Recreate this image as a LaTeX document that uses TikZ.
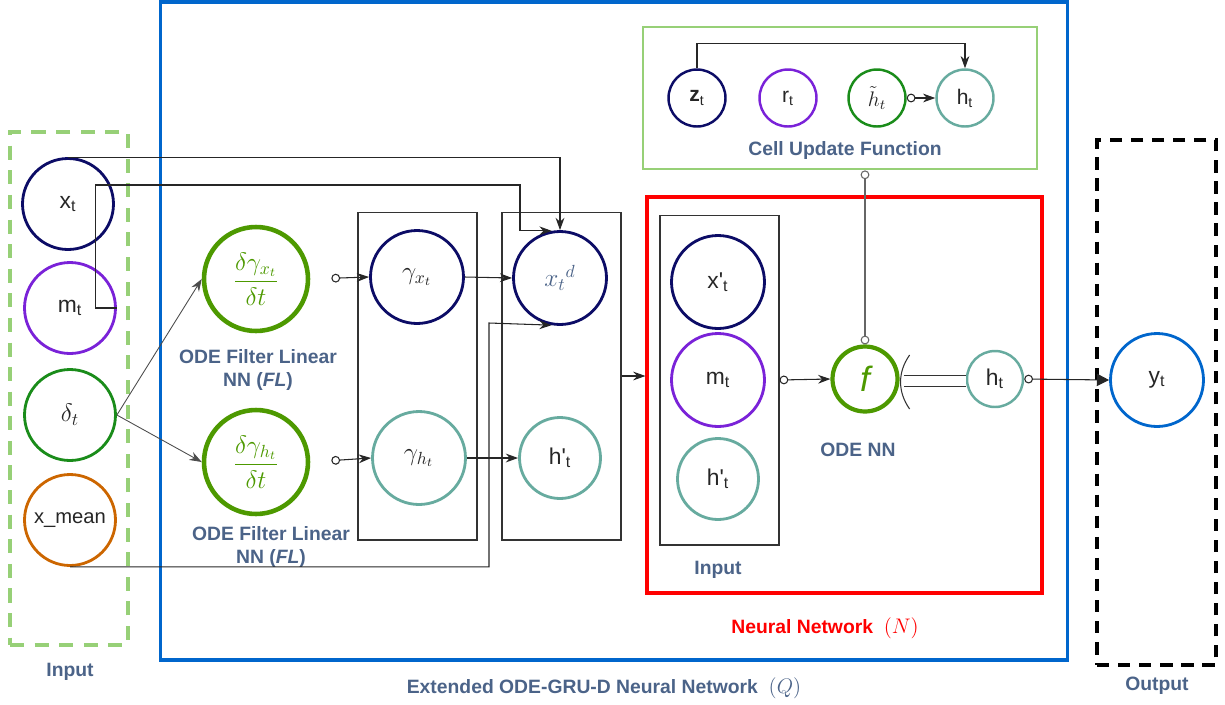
\documentclass[tikz,border=0pt]{standalone}
\usepackage[no-math]{fontspec}
\setmainfont{Liberation Sans}
\usepackage{amsmath}
\usepackage{amssymb}
\usetikzlibrary{arrows.meta}
\definecolor{navy}{HTML}{0C0C66}
\definecolor{purp}{HTML}{7A22D8}
\definecolor{dgreen}{HTML}{1A8C1A}
\definecolor{odegreen}{HTML}{4D9900}
\definecolor{tealc}{HTML}{67AB9F}
\definecolor{orng}{HTML}{CC6600}
\definecolor{bluec}{HTML}{0066CC}
\definecolor{lime}{HTML}{97D077}
\definecolor{slate}{HTML}{4B6388}

\begin{document}
\begin{tikzpicture}[x=0.02cm,y=-0.02cm,
  unit/.style={circle,draw,inner sep=0pt,line width=1.6pt,minimum size=1.82cm,text=black!85,font=\fontsize{13}{15}\selectfont},
  filt/.style={unit,draw=odegreen,line width=2.6pt,minimum size=2.08cm,text=odegreen,font=\Large},
  small/.style={unit,line width=1.4pt,minimum size=1.14cm,font=\fontsize{12}{14}\selectfont},
  frame/.style={draw=black!80,line width=0.6pt,minimum width=2.38cm,minimum height=6.56cm},
  lbl/.style={text=slate,font=\fontsize{11}{13}\selectfont\bfseries,align=center},
  arr/.style={-{Stealth[length=7pt,width=5pt]},line width=0.6pt,draw=black!85},
  tap/.style={{Circle[open,length=5pt,width=5pt]}-{Stealth[length=7pt,width=5pt]},line width=0.6pt,draw=black!85}]
\useasboundingbox (0,0) rectangle (1225,704);

\node[draw=lime,dash pattern=on 8pt off 6pt,line width=2pt,minimum width=2.36cm,minimum height=10.26cm] (inbox) at (69,388.5) {};
\node[draw=bluec,line width=1.8pt,minimum width=18.16cm,minimum height=13.16cm] (ext) at (614,331) {};
\node[draw=black,dash pattern=on 7pt off 5pt,line width=1.8pt,minimum width=2.38cm,minimum height=10.5cm] (outbox) at (1156.5,402.5) {};
\node[draw=lime,line width=1.6pt,minimum width=7.88cm,minimum height=2.84cm] (cell) at (840,98) {};
\node[draw=red,line width=1.8pt,minimum width=7.9cm,minimum height=7.92cm] (nn) at (844.5,395) {};
\node[frame] (boxg) at (417.5,376) {};
\node[frame] (boxd) at (561.5,376) {};
\node[frame,minimum height=6.6cm] (boxin) at (719.5,380) {};

\node[unit,draw=navy] (xt) at (68,204) {x\textsubscript{t}};
\node[unit,draw=purp] (mt) at (70,308) {m\textsubscript{t}};
\node[unit,draw=dgreen,font=\Large] (dt) at (70,415) {$\delta_t$};
\node[unit,draw=orng,font=\fontsize{11.5}{13}\selectfont] (xm) at (70,520) {x\_mean};

\node[filt] (fx) at (256,279) {$\dfrac{\delta\gamma_{x_t}}{\delta t}$};
\node[filt] (fh) at (256,462) {$\dfrac{\delta\gamma_{h_t}}{\delta t}$};
\node[unit,draw=navy,minimum size=1.86cm,font=\Large] (gx) at (417,277) {$\gamma_{x_t}$};
\node[unit,draw=tealc,minimum size=1.86cm,font=\Large] (gh) at (419,458) {$\gamma_{h_t}$};
\node[unit,draw=navy,minimum size=1.86cm,text=slate,font=\Large] (xd) at (560,278) {${x_t}^{d}$};
\node[unit,draw=tealc,minimum size=1.62cm] (hd) at (560,458) {h\textquotesingle\textsubscript{t}};

\node[unit,draw=navy,minimum size=1.86cm] (xn) at (718,282) {x\textquotesingle\textsubscript{t}};
\node[unit,draw=purp,minimum size=1.86cm] (mn) at (718,380) {m\textsubscript{t}};
\node[unit,draw=tealc,minimum size=1.62cm] (hn) at (718,479) {h\textquotesingle\textsubscript{t}};
\node[unit,draw=odegreen,line width=2.4pt,minimum size=1.3cm,text=odegreen,font=\fontsize{20}{22}\selectfont\itshape] (f) at (865,379) {f};
\node[unit,draw=tealc,line width=1.4pt,minimum size=1.12cm] (hf) at (995,379) {h\textsubscript{t}};
\node[unit,draw=bluec,minimum size=1.86cm] (yt) at (1157,380) {y\textsubscript{t}};

\node[small,draw=navy] (zt) at (697,98) {\textbf{z}\textsubscript{t}};
\node[small,draw=purp] (rt) at (788,98) {r\textsubscript{t}};
\node[small,draw=dgreen,font=\large] (hc) at (877,98) {$\tilde{h}_t$};
\node[small,draw=tealc] (ht) at (965,98) {h\textsubscript{t}};

\node[lbl] at (258,370) {ODE Filter Linear\\NN (\textit{FL})};
\node[lbl] at (271,547) {ODE Filter Linear\\NN (\textit{FL})};
\node[lbl] at (845,150) {Cell Update Function};
\node[lbl] at (858,450) {ODE NN};
\node[lbl] at (718,570) {Input};
\node[lbl,text=red] at (825,628) {Neural Network \ {\large$(N)$}};
\node[lbl] at (70,672) {Input};
\node[lbl] at (1157,686) {Output};
\node[lbl] at (604,688) {Extended ODE-GRU-D Neural Network \ {\large$(Q)$}};

\draw[arr] (xt.north) -| (xd.north);
\draw[arr] (mt.east) -- ++(-21,0) |- (520,185) |- (xd.100);
\draw[arr] (xm.south) -| (489,323) -- (xd.260);
\draw[arr,draw=black!70,line width=0.5pt] (dt.east) -- (fx.west);
\draw[arr,draw=black!70,line width=0.5pt] (dt.east) -- (fh.west);
\draw[tap,shorten <=12] (fx.east) -- (gx.west);
\draw[tap,shorten <=12] (fh.east) -- (gh.west);
\draw[arr] (gx.east) -- (xd.west);
\draw[arr] (gh.east) -- (hd.west);
\draw[arr] (boxd.east) -- (boxd.east -| nn.west);
\draw[tap] (boxin.east) -- (f.west);
\draw[{Circle[open,length=5pt,width=5pt]}-{Circle[open,length=5pt,width=5pt]},draw=black!60,line width=0.6pt] (f.north) -- (f.north |- cell.south);
\draw[black!80,line width=0.6pt] ([shift={(10,-24)}]f.east) to[bend right=35] ([shift={(10,30)}]f.east);
\draw[double,double distance=5.6pt,line width=0.6pt,draw=black!80] ([shift={(4,2)}]f.east) -- ([shift={(0,2)}]hf.west);
\draw[{Circle[open,length=5pt,width=5pt]}-{Triangle[length=7pt,width=7pt]},line width=0.6pt,draw=black!85] (hf.east) -- (yt.west);
\draw[arr] (zt.north) -- ++(0,-25) -| (ht.north);
\draw[tap] (hc.east) -- (ht.west);
\end{tikzpicture}
\end{document}
